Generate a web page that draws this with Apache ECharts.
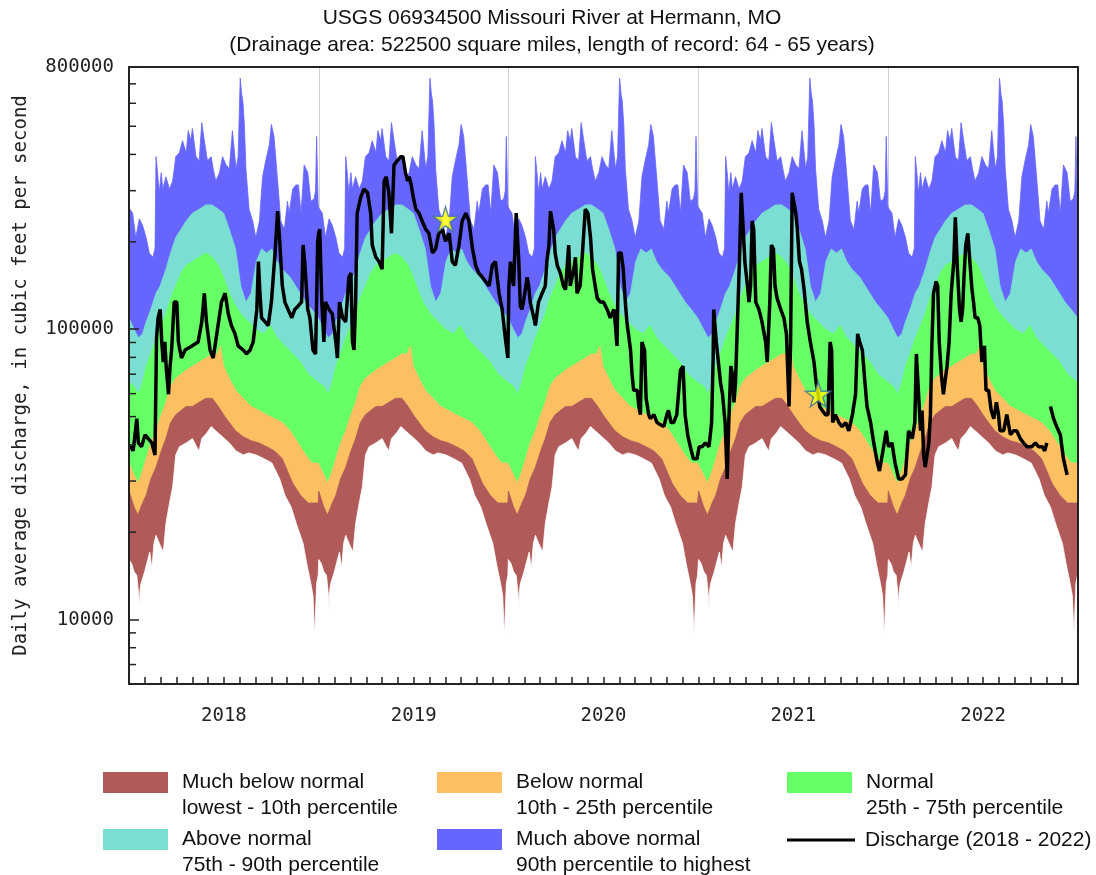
<!DOCTYPE html>
<html><head><meta charset="utf-8">
<script src="https://cdn.jsdelivr.net/npm/echarts@6/dist/echarts.min.js"></script>
<style>html,body{margin:0;padding:0;background:#fff}#c{width:1096px;height:875px}</style>
</head><body><div id="c"></div>
<script>
// ---------- DATA ----------
const years = [2018, 2019, 2020, 2021, 2022];
const yearLabels = ['2018', '2019', '2020', '2021', '2022'];

// Daily-statistic percentile profiles, [day of year, cfs] (same every year)
const pctMax = [[0,262000],[2,259000],[7,251000],[13,207000],[20,240000],[26,228000],[33,207000],[39,183000],[46,177000],[50,190000],[52,393000],[55,346000],[58,295000],[62,346000],[65,304000],[71,335000],[78,304000],[84,324000],[90,393000],[97,405000],[103,446000],[110,405000],[114,483000],[119,446000],[122,491000],[129,393000],[135,380000],[140,515000],[145,446000],[151,380000],[158,393000],[162,357000],[167,324000],[174,346000],[180,393000],[187,368000],[193,357000],[199,483000],[206,357000],[210,393000],[214,732000],[217,640000],[219,614000],[222,507000],[225,357000],[231,259000],[238,236000],[244,207000],[251,236000],[257,335000],[263,380000],[270,432000],[274,507000],[279,461000],[286,324000],[292,236000],[299,221000],[305,276000],[308,251000],[315,304000],[321,314000],[326,314000],[331,251000],[337,368000],[344,346000],[350,276000],[356,281000],[359,300000],[361,461000],[364,268000]];
const pct90 = [[0,109500],[10,99600],[18,93400],[26,96400],[33,106000],[42,117000],[52,133000],[60,141000],[71,161000],[80,183000],[90,207000],[100,221000],[110,236000],[122,251000],[135,259000],[148,268000],[160,268000],[172,259000],[182,251000],[193,221000],[205,189000],[215,141000],[225,124000],[235,133000],[245,171000],[255,189000],[265,183000],[275,189000],[285,171000],[295,161000],[310,151000],[325,137000],[340,124000],[352,117000],[364,109500]];
const pct75 = [[0,65700],[10,63600],[18,59700],[26,65700],[33,74600],[42,82200],[52,93400],[62,103000],[71,113000],[80,128000],[90,141000],[100,156000],[110,166000],[122,171000],[135,177000],[148,183000],[160,177000],[172,166000],[182,151000],[193,133000],[205,120500],[215,113000],[230,106000],[245,99600],[260,96400],[272,103000],[285,93400],[300,87600],[315,82200],[330,77100],[345,70000],[364,65700]];
const pct25 = [[0,34600],[10,31500],[17,29500],[26,32500],[33,35800],[42,40600],[52,44700],[62,50800],[71,56000],[80,63600],[90,67800],[100,70000],[110,72300],[122,74600],[135,77100],[148,79600],[160,82200],[170,82200],[176,87600],[182,74600],[193,67800],[205,61600],[220,57800],[235,54200],[250,52500],[265,50800],[280,49200],[295,47700],[310,44700],[325,40600],[340,36900],[352,34600],[364,34600]];
const pct10 = [[0,27700],[10,24400],[17,22900],[26,25200],[33,26800],[42,30500],[52,33500],[62,38100],[71,42000],[80,47700],[90,50800],[100,52500],[110,54200],[122,54200],[135,56000],[148,57800],[160,57800],[172,54200],[182,50800],[193,47700],[205,44700],[220,42600],[235,41300],[250,40600],[265,39400],[280,38100],[295,35800],[305,32500],[315,29500],[330,26800],[345,25200],[364,25200]];
const pctMin = [[0,16100],[5,15600],[10,14600],[15,14200],[19,12000],[20,10800],[21,12500],[23,13300],[30,14600],[40,17100],[44,15000],[48,18300],[52,19500],[55,18900],[62,17700],[66,17100],[71,21400],[78,25200],[84,28600],[90,36900],[97,39400],[110,40600],[122,42000],[130,39400],[135,38100],[140,42000],[150,44000],[158,46200],[167,44700],[180,42600],[193,40600],[206,38100],[220,36900],[230,37500],[245,36900],[260,35800],[275,34600],[290,30500],[300,26800],[312,24400],[322,21400],[335,18300],[342,15600],[350,13300],[354,12100],[356,10000],[357,8800],[358,9600],[361,13300],[364,14200]];

// Daily discharge, [day of year, cfs]
const q2018 = [[0,39000],[4,39400],[8,38100],[15,49200],[18,40600],[24,39400],[31,43300],[37,42000],[44,40600],[50,36900],[53,93400],[56,109500],[60,117000],[63,90400],[66,77100],[69,90400],[72,72300],[76,59700],[79,74600],[82,84800],[87,124000],[92,124000],[95,90400],[101,79600],[108,84800],[121,87600],[133,90400],[140,106000],[145,133000],[149,106000],[156,84800],[162,79600],[169,96400],[178,124000],[185,133000],[191,113000],[197,103000],[204,96400],[210,87600],[220,84800],[226,82200],[233,84800],[239,90400],[246,117000],[249,171000],[252,133000],[255,109500],[262,106000],[268,103000],[274,124000],[281,183000],[286,255000],[290,201000],[295,141000],[300,124000],[306,117000],[313,109500],[319,117000],[326,120500],[332,124000],[335,195000],[338,171000],[344,117000],[348,109500],[354,84800],[359,82200],[361,124000],[363,201000]];
const q2019 = [[0,214000],[2,221000],[6,124000],[10,90400],[13,124000],[20,117000],[26,113000],[33,90400],[36,79600],[40,124000],[46,109500],[52,106000],[58,151000],[62,156000],[65,90400],[68,84800],[71,124000],[74,251000],[81,285000],[87,304000],[94,295000],[100,251000],[103,195000],[110,177000],[116,171000],[122,161000],[126,324000],[130,335000],[135,295000],[140,214000],[145,368000],[151,380000],[158,393000],[162,393000],[167,346000],[171,324000],[174,335000],[178,314000],[182,285000],[187,259000],[193,251000],[199,236000],[206,221000],[212,214000],[219,183000],[225,189000],[231,214000],[238,221000],[244,201000],[251,214000],[257,171000],[263,166000],[270,195000],[276,236000],[283,251000],[289,236000],[296,189000],[302,166000],[308,156000],[315,151000],[321,146000],[328,141000],[334,166000],[340,171000],[347,133000],[353,117000],[360,90400],[364,79600]];
const q2020 = [[1,141000],[4,171000],[7,151000],[10,141000],[15,251000],[20,171000],[23,120500],[26,117000],[29,124000],[36,151000],[39,141000],[42,124000],[49,109500],[52,103000],[58,124000],[65,133000],[71,141000],[74,171000],[78,195000],[81,255000],[84,251000],[87,221000],[90,183000],[94,166000],[100,156000],[106,141000],[110,137000],[116,195000],[119,141000],[122,141000],[126,161000],[129,177000],[132,133000],[138,141000],[142,177000],[148,259000],[153,251000],[158,207000],[162,161000],[167,141000],[171,128000],[177,124000],[183,124000],[190,117000],[196,109500],[203,117000],[206,103000],[209,87600],[212,183000],[217,183000],[221,161000],[225,124000],[228,106000],[235,84800],[238,70000],[241,61600],[248,61600],[251,54200],[254,50800],[257,90400],[262,84800],[265,57800],[270,50800],[273,49200],[280,50800],[286,47700],[292,47000],[299,46200],[305,50800],[308,52500],[313,47700],[318,47700],[324,50800],[331,72300],[336,74600],[340,50800],[345,43300],[350,39400],[356,35800],[363,35800]];
const q2021 = [[1,39400],[7,39400],[13,40600],[20,39400],[25,47700],[28,79600],[29,117000],[34,90400],[38,77100],[42,65700],[46,59700],[51,47700],[55,30500],[58,47700],[62,74600],[65,70000],[68,56000],[71,65700],[76,124000],[79,183000],[82,295000],[85,236000],[89,171000],[94,141000],[97,124000],[100,141000],[103,236000],[106,221000],[110,124000],[116,117000],[122,106000],[129,90400],[132,77100],[137,124000],[140,195000],[144,189000],[147,141000],[151,128000],[158,117000],[164,109500],[169,96400],[174,54200],[177,90400],[180,295000],[183,276000],[187,251000],[190,221000],[194,171000],[198,161000],[203,137000],[209,106000],[215,90400],[222,77100],[226,65700],[230,59700],[233,54200],[238,52500],[244,50800],[249,50800],[253,90400],[256,84800],[258,47700],[263,50800],[270,47700],[276,46200],[283,47700],[289,44700],[296,50800],[302,59700],[306,96400],[310,90400],[315,84800],[320,65700],[324,54200],[331,47700],[337,40600],[344,34600],[348,32500],[356,39400],[361,44700],[364,40600]];
const q2022 = [[1,39400],[7,40600],[13,34600],[20,30500],[26,30500],[33,31500],[39,44700],[46,42000],[51,47700],[54,82200],[57,65700],[62,44700],[65,52500],[68,36900],[71,33500],[74,33500],[78,40600],[81,50800],[84,90400],[87,133000],[92,146000],[95,141000],[98,90400],[102,70000],[106,59700],[113,74600],[117,90400],[121,133000],[126,171000],[129,243000],[133,161000],[137,117000],[140,106000],[143,117000],[146,156000],[149,195000],[153,214000],[158,161000],[161,137000],[164,124000],[167,109500],[172,109500],[176,103000],[180,77100],[185,87600],[188,61600],[193,61600],[198,52500],[203,49200],[208,56000],[212,50800],[215,44700],[222,44700],[228,50800],[235,43300],[241,44700],[247,44700],[254,42000],[260,40600],[267,39400],[276,39400],[283,40600],[289,39400],[296,39400],[301,38100],[305,40600],[308,null],[312,54200],[318,49200],[324,46200],[331,43300],[337,35800],[344,31500]];
const dischargeByYear = {2018: q2018, 2019: q2019, 2020: q2020, 2021: q2021, 2022: q2022};

// Star markers [year, day of year, cfs]
const stars = [[2019, 244, 239000], [2021, 230, 59700]];

// Axis tick values
const yMinorTicks = [7000, 8000, 9000, 20000, 30000, 40000, 50000, 60000, 70000, 80000, 90000, 200000, 300000, 400000, 500000, 600000, 700000];
const Y_MIN = 6000, Y_MAX = 800000;

const legendText = {
  'Much below normal': ' \nMuch below normal\nlowest - 10th percentile',
  'Below normal': ' \nBelow normal\n10th - 25th percentile',
  'Normal': ' \nNormal\n25th - 75th percentile',
  'Above normal': ' \nAbove normal\n75th - 90th percentile',
  'Much above normal': ' \nMuch above normal\n90th percentile to highest',
  'Discharge': 'Discharge (2018 - 2022)'
};

// ---------- BUILD ----------
const DAY = 86400000;
const dayOffset = y => (Date.UTC(y, 0, 1) - Date.UTC(2018, 0, 1)) / DAY;
const X_MAX = dayOffset(2023);
const annual = prof => years.flatMap(y => prof.map(([d, v]) => [dayOffset(y) + d, v]));
const discharge = years.flatMap(y => dischargeByYear[y].map(([d, v]) => [dayOffset(y) + d, v == null ? '-' : v]));

const mono = 'DejaVu Sans Mono, monospace';
const sans = 'Liberation Sans, Arial, sans-serif';
const axisColor = '#222';

const bands = [
  {name: 'Much above normal', data: pctMax, color: '#6666FF'},
  {name: 'Above normal', data: pct90, color: '#7BDED2'},
  {name: 'Normal', data: pct75, color: '#66FF66'},
  {name: 'Below normal', data: pct25, color: '#FCC063'},
  {name: 'Much below normal', data: pct10, color: '#B05A5A'},
  {name: 'min', data: pctMin, color: '#FFFFFF'}
];

const series = bands.map((b, i) => ({
  type: 'line', name: b.name, data: annual(b.data), color: b.color,
  xAxisIndex: 0, yAxisIndex: 0, showSymbol: false, symbol: 'none', silent: true,
  lineStyle: {width: 0.8, color: b.color}, areaStyle: {color: b.color, opacity: 1, origin: 'start'},
  z: 2 + i * 0.01, animation: false
}));
series.push({
  type: 'line', name: 'Discharge', data: discharge, color: '#000',
  xAxisIndex: 0, yAxisIndex: 0, showSymbol: false, symbol: 'none', silent: true,
  lineStyle: {width: 3.5, color: '#000'}, z: 3, animation: false
});
series.push({
  type: 'scatter', name: 'stars', data: stars.map(([y, d, v]) => [dayOffset(y) + d, v]),
  xAxisIndex: 0, yAxisIndex: 0, silent: true, z: 4, animation: false,
  symbol: 'path://M50,0 L61.8,36.2 L100,36.2 L69.1,58.8 L80.9,95.1 L50,72.6 L19.1,95.1 L30.9,58.8 L0,36.2 L38.2,36.2 Z',
  symbolSize: 25,
  itemStyle: {color: '#FFFF00', borderColor: '#3F6E9E', borderWidth: 1.5}
});
series.push({
  type: 'custom', name: 'yMinorTicks', xAxisIndex: 0, yAxisIndex: 0, silent: true, z: 12, animation: false,
  data: yMinorTicks.map(v => [0, v]),
  renderItem: (params, api) => {
    const p = api.coord([api.value(0), api.value(1)]);
    return {type: 'line', shape: {x1: p[0], y1: p[1], x2: p[0] + 7, y2: p[1]}, style: {stroke: axisColor, lineWidth: 1.5}};
  }
});

function legendAt(name, left, top, extra) {
  return Object.assign({
    data: [{name: name, icon: 'rect'}], left: left, top: top, padding: 0, orient: 'horizontal',
    itemWidth: 65, itemHeight: 21, selectedMode: false,
    formatter: n => legendText[n],
    textStyle: {fontFamily: sans, fontSize: 21, color: '#111', lineHeight: 26, padding: [0, 0, 0, 9]}
  }, extra || {});
}

const option = {
  animation: false,
  backgroundColor: '#fff',
  title: {
    text: 'USGS 06934500 Missouri River at Hermann, MO\n(Drainage area: 522500 square miles, length of record: 64 - 65 years)',
    left: 552, textAlign: 'center', top: 5, padding: 0,
    textStyle: {fontFamily: sans, fontSize: 21, fontWeight: 'normal', color: '#111', lineHeight: 27}
  },
  grid: {left: 129, right: 18, top: 67, bottom: 191, containLabel: false},
  xAxis: [
    {type: 'value', position: 'bottom', min: 0, max: X_MAX, interval: X_MAX / 60, z: 10,
     axisLine: {show: true, onZero: false, lineStyle: {color: axisColor, width: 2}},
     axisTick: {show: true, inside: true, length: 7, lineStyle: {color: axisColor, width: 1.5}},
     axisLabel: {show: false}, splitLine: {show: false}},
    {type: 'category', position: 'bottom', data: yearLabels, boundaryGap: true,
     axisLine: {show: false}, axisTick: {show: false},
     axisLabel: {fontFamily: mono, fontSize: 19, color: axisColor, margin: 23},
     splitLine: {show: true, lineStyle: {color: '#d2d2d2', width: 1}}},
    {type: 'value', position: 'top', min: 0, max: X_MAX, z: 10,
     axisLine: {show: true, onZero: false, lineStyle: {color: axisColor, width: 2}},
     axisTick: {show: false}, axisLabel: {show: false}, splitLine: {show: false}}
  ],
  yAxis: [
    {type: 'log', logBase: 10, position: 'left', min: Y_MIN, max: Y_MAX, z: 10,
     name: 'Daily average discharge, in cubic feet per second', nameLocation: 'middle', nameGap: 98,
     nameTextStyle: {fontFamily: mono, fontSize: 19, color: axisColor},
     axisLine: {show: true, onZero: false, lineStyle: {color: axisColor, width: 2}},
     axisTick: {show: true, inside: true, length: 10, lineStyle: {color: axisColor, width: 1.5}},
     axisLabel: {showMinLabel: false, showMaxLabel: true, margin: 15, fontFamily: mono, fontSize: 19, color: axisColor,
                 formatter: v => String(Math.round(v))},
     splitLine: {show: false}},
    {type: 'value', position: 'right', min: 0, max: 1, z: 10,
     axisLine: {show: true, onZero: false, lineStyle: {color: axisColor, width: 2}},
     axisTick: {show: false}, axisLabel: {show: false}, splitLine: {show: false}}
  ],
  legend: [
    legendAt('Much below normal', 103, 743.5),
    legendAt('Below normal', 437, 743.5),
    legendAt('Normal', 787, 743.5),
    legendAt('Above normal', 103, 800.5),
    legendAt('Much above normal', 437, 800.5),
    legendAt('Discharge', 787, 827, {itemWidth: 68, itemHeight: 3,
      textStyle: {fontFamily: sans, fontSize: 21, color: '#111', lineHeight: 26, padding: [0, 0, 0, 5]}})
  ],
  series: series
};

const chart = echarts.init(document.getElementById('c'), null, {renderer: 'canvas'});
chart.setOption(option);
</script>
</body></html>
